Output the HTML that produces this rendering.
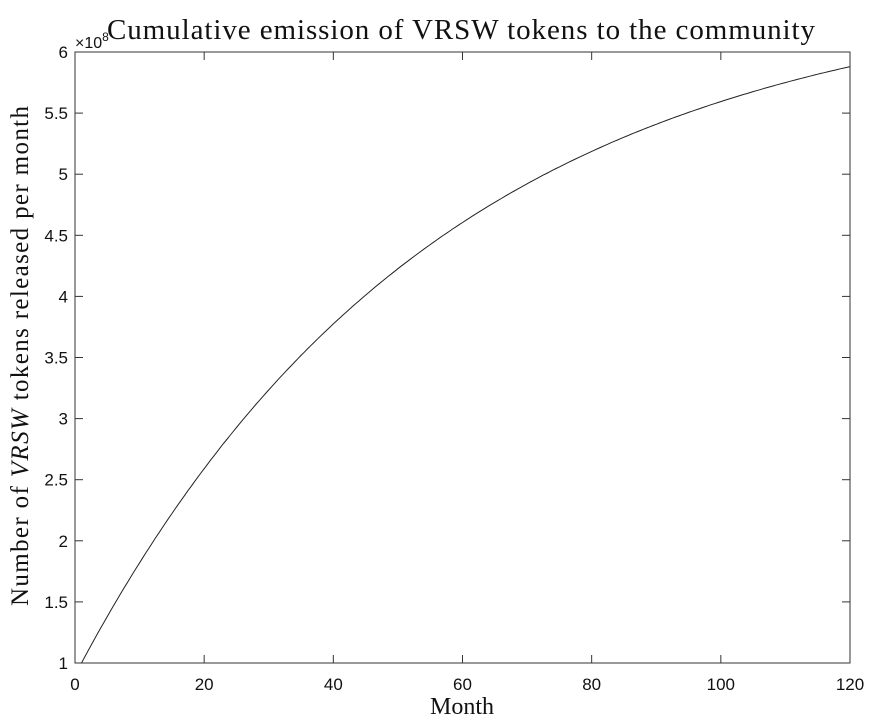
<!DOCTYPE html>
<html><head><meta charset="utf-8"><style>
body{margin:0;background:#fff;}
svg text{font-family:"Liberation Sans",sans-serif;}
</style></head><body>
<svg id="s" width="875" height="720" xmlns="http://www.w3.org/2000/svg">
<rect x="0" y="0" width="875" height="720" fill="#fff"/>
<rect x="75" y="52" width="775" height="611" fill="#fff" stroke="#333" stroke-width="1"/>
<g id="ticks" stroke="#333" stroke-width="1"></g>
<g id="labels" font-size="17" fill="#111"></g>
<polyline id="curve" fill="none" stroke="#222" stroke-width="1"/>
<text x="461" y="39" font-size="29" text-anchor="middle" fill="#111" textLength="708" style="font-family:'Liberation Serif',serif">Cumulative emission of VRSW tokens to the community</text>
<text x="462" y="714" font-size="24" text-anchor="middle" fill="#111" style="font-family:'Liberation Serif',serif">Month</text>
<text transform="translate(28,356) rotate(-90)" font-size="25" text-anchor="middle" fill="#111" textLength="500" style="font-family:'Liberation Serif',serif">Number of <tspan font-style="italic">VRSW</tspan> tokens released per month</text>
<text x="75" y="48" font-size="16" fill="#111">×10<tspan font-size="12" dy="-7">8</tspan></text>
</svg>
<script>
var X=t=>75+t*775/120, Y=v=>663-(v-1)*122.2;
var tk=document.getElementById('ticks'),lb=document.getElementById('labels'),h='',l='';
for(var t=0;t<=120;t+=20){var x=X(t);h+=`<line x1="${x}" y1="663" x2="${x}" y2="655"/><line x1="${x}" y1="52" x2="${x}" y2="60"/>`;l+=`<text x="${x}" y="690" text-anchor="middle">${t}</text>`;}
for(var v=1;v<=6.001;v+=0.5){var y=Y(v);h+=`<line x1="75" y1="${y}" x2="83" y2="${y}"/><line x1="850" y1="${y}" x2="842" y2="${y}"/>`;l+=`<text x="68" y="${y+6}" text-anchor="end">${Number.isInteger(v)?v:v.toFixed(1)}</text>`;}
tk.innerHTML=h;lb.innerHTML=l;
var p=[];for(var t=1;t<=120;t+=0.5){var v=6.55-5.55*Math.exp(-0.01777*(t-1));p.push(X(t).toFixed(1)+','+Y(v).toFixed(1));}
document.getElementById('curve').setAttribute('points',p.join(' '));
</script>
</body></html>
